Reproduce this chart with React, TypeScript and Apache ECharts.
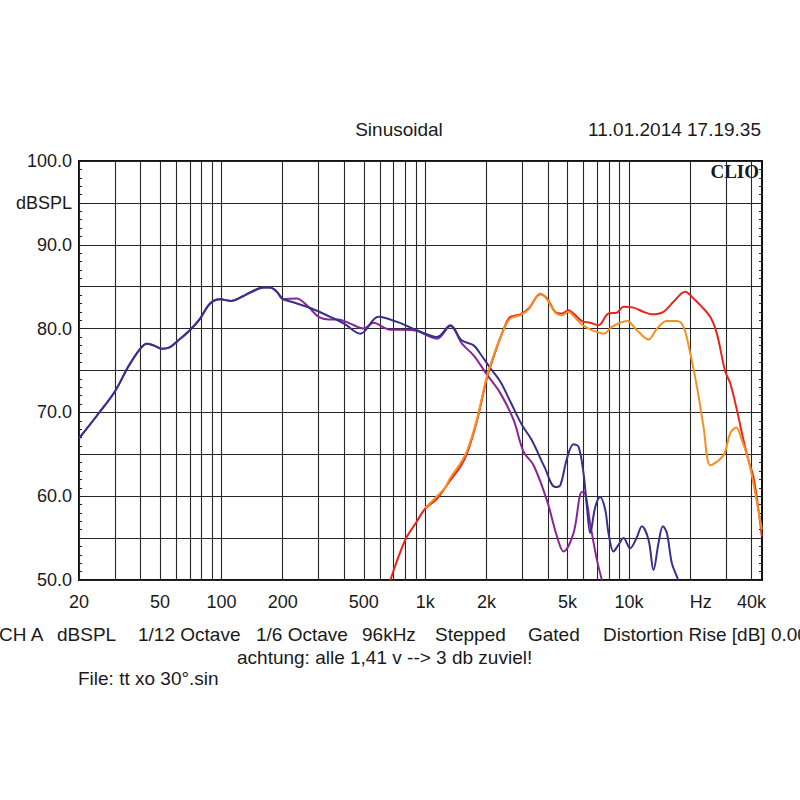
import React, { useEffect, useRef } from 'react';
import * as echarts from 'echarts';

// shared low-frequency part of the two woofer curves (Hz, dB)
const commonFreq = [20, 25, 30, 35, 40, 43, 46.4, 51, 56, 61.5, 70, 78.6, 88, 98.5, 112, 126, 141, 161, 173, 187, 201];
const commonDb = [66.9, 69.9, 72.5, 75.5, 77.6, 78.2, 78.0, 77.6, 77.8, 78.6, 79.8, 81.2, 83.0, 83.5, 83.3, 83.8, 84.4, 84.9, 84.9, 84.4, 83.5];

const blueFreq = [221, 277, 342, 400, 481, 590, 728, 912, 1143, 1329, 1510, 1729, 1864, 2087, 2337, 2617, 2986, 3335, 3850, 4350, 4603, 4965, 5348, 5660, 5990, 6223, 6460, 6835, 7233, 7650, 7940, 8400, 8890, 9410, 10130, 10900, 11580, 12480, 13210, 13970, 14690, 15360, 16250, 17200, 17450];
const blueDb = [83.2, 82.4, 81.4, 80.6, 79.4, 81.4, 80.8, 79.8, 79.0, 80.4, 78.6, 78.0, 77.0, 75.3, 73.7, 71.3, 68.5, 66.7, 63.5, 61.1, 61.3, 64.5, 66.2, 65.9, 62.7, 58.7, 55.6, 58.7, 59.9, 58.4, 55.6, 53.4, 54.2, 55.0, 53.8, 55.0, 56.4, 54.8, 51.2, 54.4, 56.4, 55.6, 52.0, 50.4, 50.0];

const purpleFreq = [234, 267, 300, 335, 375, 429, 499, 557, 580, 660, 878, 1143, 1329, 1516, 1729, 2011, 2337, 2716, 3041, 3404, 3961, 4436, 4778, 5348, 5883, 6105, 6460, 6966, 7370];
const purpleDb = [83.6, 82.6, 81.4, 81.1, 81.1, 80.6, 80.0, 80.7, 80.6, 79.9, 79.8, 78.8, 80.3, 78.2, 76.8, 74.5, 72.3, 69.1, 65.3, 63.7, 59.5, 55.2, 53.4, 55.6, 60.5, 60.3, 56.7, 52.4, 50.0];

const redFreq = [675, 799, 900, 1000, 1143, 1329, 1487, 1605, 1796, 2011, 2251, 2473, 2617, 2930, 3218, 3672, 3961, 4350, 4692, 5054, 5348, 5883, 6460, 7090, 7940, 8730, 9410, 10530, 11790, 12970, 14780, 16550, 18890, 20750, 22380, 25050, 27020, 29680, 31400, 33880, 36490, 38610, 40850, 43220, 44920];
const redDb = [50.0, 54.8, 56.8, 58.5, 59.7, 61.9, 63.5, 65.1, 69.0, 74.1, 77.8, 80.4, 81.4, 81.7, 82.4, 84.1, 83.6, 82.0, 81.8, 82.2, 81.8, 80.9, 80.7, 80.4, 81.8, 81.9, 82.6, 82.5, 82.0, 81.7, 82.0, 83.2, 84.4, 83.6, 82.8, 81.4, 79.4, 74.9, 73.5, 70.3, 66.7, 64.3, 62.3, 58.4, 55.2];

const orangeFreq = [1000, 1143, 1250, 1329, 1487, 1605, 1796, 2011, 2251, 2473, 2617, 2930, 3218, 3672, 3961, 4350, 4692, 5054, 5348, 5883, 6460, 6966, 7507, 8250, 9060, 9780, 10940, 12480, 13720, 15360, 17200, 18530, 19980, 21560, 23230, 25050, 27020, 29450, 31400, 33620, 35840, 38610, 41180, 44920];
const orangeDb = [58.6, 60.0, 61.0, 62.2, 63.9, 65.4, 69.2, 74.3, 77.9, 80.3, 81.2, 81.6, 82.3, 84.2, 83.5, 81.9, 81.6, 82.0, 81.5, 80.5, 79.9, 79.6, 79.4, 80.2, 80.7, 80.9, 79.8, 78.7, 80.0, 80.9, 80.9, 80.2, 77.1, 73.1, 68.3, 63.7, 64.1, 65.1, 67.5, 68.2, 66.7, 64.3, 61.1, 56.0];

// frequency grid lines and labels
const gridFreqs = [
  20, 30, 40, 50, 60, 70, 80, 90,
  100, 200, 300, 400, 500, 600, 700, 800, 900,
  1000, 2000, 3000, 4000, 5000, 6000, 7000, 8000, 9000,
  10000, 20000, 30000, 40000,
];
const labelFreqs = [20, 50, 100, 200, 500, 1000, 2000, 5000, 10000, 22500, 40000];
const labelTexts = ['20', '50', '100', '200', '500', '1k', '2k', '5k', '10k', 'Hz', '40k'];

const FREQ_MIN = 20;
const FREQ_MAX = 45000;
const DB_MIN = 50;
const DB_MAX = 100;

const zip = (f: number[], d: number[]) => f.map((x, i) => [x, d[i]]);

export default function App() {
  const ref = useRef<HTMLDivElement>(null);

  useEffect(() => {
    const chart = echarts.init(ref.current!, null, { renderer: 'svg' });
    const fam = "'Liberation Sans', Arial, sans-serif";
    const ink = '#1a1a1a';
    const gridColor = '#262626';
    const txt = (text: string, x: number, y: number, align: string = 'left', font: string = `19px ${fam}`) => ({
      type: 'text',
      x,
      y,
      silent: true,
      style: {
        text,
        font,
        fill: ink,
        align,
        textAlign: align,
        verticalAlign: 'middle',
        textVerticalAlign: 'middle',
      },
    });

    const lineSeries = (name: string, data: number[][], color: string) => ({
      name,
      type: 'line',
      data,
      showSymbol: false,
      smooth: 0.35,
      clip: true,
      lineStyle: { color, width: 2 },
      itemStyle: { color },
    });

    const option: any = {
      animation: false,
      backgroundColor: '#ffffff',
      grid: {
        left: 79,
        right: 38,
        top: 161,
        bottom: 220,
        show: true,
        borderColor: '#111111',
        borderWidth: 2,
        backgroundColor: 'transparent',
      },
      xAxis: {
        type: 'log',
        logBase: 10,
        min: FREQ_MIN,
        max: FREQ_MAX,
        axisLine: { show: false },
        axisTick: { show: false, customValues: gridFreqs },
        axisLabel: {
          customValues: labelFreqs,
          margin: 13,
          fontSize: 18,
          fontFamily: fam,
          color: ink,
          formatter: (v: number) => {
            let best = 0;
            let bd = Infinity;
            labelFreqs.forEach((f, i) => {
              const d = Math.abs(Math.log10(f) - Math.log10(v));
              if (d < bd) { bd = d; best = i; }
            });
            return labelTexts[best];
          },
        },
        splitLine: { show: true, lineStyle: { color: gridColor, width: 1.1 } },
      },
      yAxis: [
        {
          type: 'value',
          min: DB_MIN,
          max: DB_MAX,
          interval: 5,
          axisLine: { show: false },
          axisTick: { show: true, inside: true, length: 5, lineStyle: { color: '#222', width: 1 } },
          minorTick: { show: true, splitNumber: 5, length: 3, lineStyle: { color: '#222', width: 1 } },
          axisLabel: {
            margin: 7,
            fontSize: 18,
            fontFamily: fam,
            color: ink,
            formatter: (v: number) => (v % 10 === 0 ? v.toFixed(1) : v === 95 ? 'dBSPL' : ''),
          },
          splitLine: { show: true, lineStyle: { color: gridColor, width: 1.1 } },
        },
        {
          type: 'value',
          position: 'right',
          min: DB_MIN,
          max: DB_MAX,
          interval: 5,
          axisLine: { show: false },
          axisTick: { show: true, inside: true, length: 5, lineStyle: { color: '#222', width: 1 } },
          minorTick: { show: true, splitNumber: 5, length: 3, lineStyle: { color: '#222', width: 1 } },
          axisLabel: { show: false },
          splitLine: { show: false },
        },
      ],
      series: [
        lineSeries('purple', zip(commonFreq.concat(purpleFreq), commonDb.concat(purpleDb)), '#8a2596'),
        lineSeries('blue', zip(commonFreq.concat(blueFreq), commonDb.concat(blueDb)), '#37318c'),
        lineSeries('red', zip(redFreq, redDb), '#e8261c'),
        lineSeries('orange', zip(orangeFreq, orangeDb), '#f59020'),
      ],
      graphic: [
        txt('Sinusoidal', 399, 129, 'center'),
        txt('11.01.2014 17.19.35', 761, 129, 'right'),
        txt('CLIO', 759, 171, 'right', `bold 19px 'Liberation Serif', 'Times New Roman', serif`),
        txt('CH A', -1, 634),
        txt('dBSPL', 57, 634),
        txt('1/12 Octave', 138, 634),
        txt('1/6 Octave', 256, 634),
        txt('96kHz', 362, 634),
        txt('Stepped', 435, 634),
        txt('Gated', 528, 634),
        txt('Distortion Rise [dB] 0.00', 603, 634),
        txt('achtung: alle 1,41 v --> 3 db zuviel!', 237, 657),
        txt('File: tt xo 30°.sin', 78, 678),
      ],
    };

    chart.setOption(option);
    return () => chart.dispose();
  }, []);

  return (
    <div
      ref={ref}
      style={{ position: 'fixed', left: 0, top: 0, width: 800, height: 800, background: '#ffffff' }}
    />
  );
}
